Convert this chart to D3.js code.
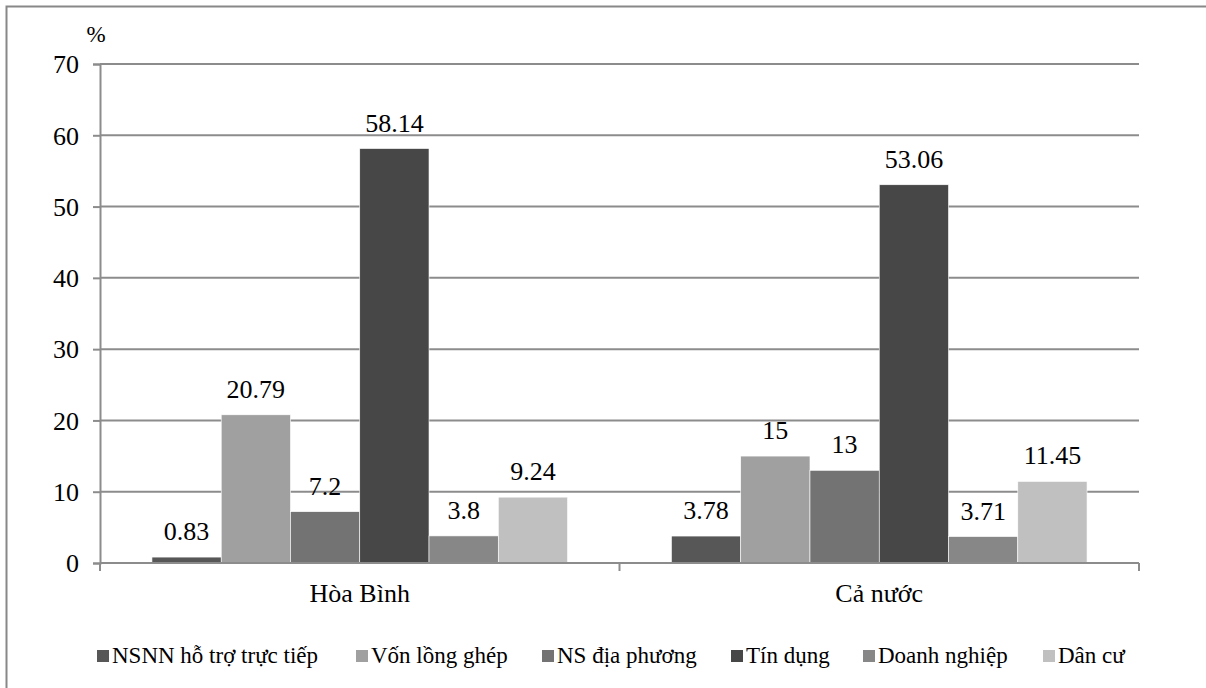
<!DOCTYPE html>
<html><head><meta charset="utf-8">
<script src="https://cdn.jsdelivr.net/npm/d3@7"></script>
<style>body{margin:0;background:#fff}svg{display:block}
svg text, #c text, text{font-family:"Liberation Serif", Tinos, "Times New Roman", serif !important;}</style>
</head><body>
<svg id="c" width="1206" height="688"></svg>
<script>
const categories = ["Hòa Bình", "Cả nước"];
const seriesNames = ["NSNN hỗ trợ trực tiếp", "Vốn lồng ghép", "NS địa phương", "Tín dụng", "Doanh nghiệp", "Dân cư"];
const valuesHoaBinh = [0.83, 20.79, 7.2, 58.14, 3.8, 9.24];
const valuesCaNuoc = [3.78, 15, 13, 53.06, 3.71, 11.45];
const yTicks = [0, 10, 20, 30, 40, 50, 60, 70];
const colors = ["#575757", "#a0a0a0", "#737373", "#474747", "#878787", "#c0c0c0"];

const FONT = "'Liberation Serif', Tinos, 'Times New Roman', serif";
function serif(sel, size){ return sel.attr("font-family","Liberation Serif").style("font-family",FONT,"important").style("font-size",size+"px").style("fill","#000"); }

const allValues = [valuesHoaBinh, valuesCaNuoc];
const svg = d3.select("#c").attr("font-family","Liberation Serif");
svg.append("rect").attr("x",6.5).attr("y",6.5).attr("width",1400).attr("height",900)
  .attr("fill","none").attr("stroke","#888").attr("stroke-width",2);

const x0 = d3.scaleBand().domain(categories).range([100,1139]).paddingInner(0).paddingOuter(0);
const x1 = d3.scaleBand().domain(seriesNames).range([x0.bandwidth()*0.1, x0.bandwidth()*0.9]).padding(0);
const y = d3.scaleLinear().domain([0,70]).range([563,64]);

svg.append("g").selectAll("line").data(yTicks.filter(d=>d>0)).join("line")
  .attr("x1",100).attr("x2",1139).attr("y1",d=>y(d)).attr("y2",d=>y(d))
  .attr("stroke","#8c8c8c").attr("stroke-width",2);

const yAxis = svg.append("g").attr("transform","translate(100,0)")
  .call(d3.axisLeft(y).tickValues(yTicks).tickSize(7).tickPadding(14).tickFormat(d3.format("d")));
yAxis.attr("font-family","Liberation Serif");
yAxis.select(".domain").attr("stroke","#8c8c8c").attr("stroke-width",2);
yAxis.selectAll(".tick line").attr("stroke","#8c8c8c").attr("stroke-width",2);
serif(yAxis.selectAll(".tick text"), 26).attr("dy","0.34em");

serif(svg.append("text").attr("x",96).attr("y",42).attr("text-anchor","middle"), 23).text("%");

const groups = svg.append("g").selectAll("g").data(categories).join("g")
  .attr("transform",d=>`translate(${x0(d)},0)`);
groups.each(function(cat,ci){
  const g = d3.select(this);
  const data = seriesNames.map((s,i)=>({s,i,v:allValues[ci][i]}));
  g.selectAll("rect").data(data).join("rect")
    .attr("x",d=>x1(d.s)).attr("width",x1.bandwidth())
    .attr("y",d=>y(d.v)).attr("height",d=>y(0)-y(d.v))
    .attr("fill",d=>colors[d.i]).attr("stroke","#fff").attr("stroke-width",0.6);
  serif(g.selectAll("text").data(data).join("text")
    .attr("x",d=>x1(d.s)+x1.bandwidth()/2).attr("y",d=>y(d.v)-17)
    .attr("text-anchor","middle"), 26).text(d=>String(d.v));
});

const xAxisG = svg.append("g").attr("transform","translate(0,563)");
xAxisG.append("line").attr("x1",100).attr("x2",1139).attr("y1",0).attr("y2",0).attr("stroke","#8c8c8c").attr("stroke-width",2);
const bounds = [100, x0(categories[1]), 1139];
xAxisG.selectAll("line.t").data(bounds).join("line").attr("class","t")
  .attr("x1",d=>d).attr("x2",d=>d).attr("y1",0).attr("y2",8).attr("stroke","#8c8c8c").attr("stroke-width",2);
serif(xAxisG.selectAll("text").data(categories).join("text")
  .attr("x",d=>x0(d)+x0.bandwidth()/2).attr("y",39).attr("text-anchor","middle"), 26).text(d=>d);

const legend = svg.append("g");
const legendStarts = [97, 356, 542, 731, 863, 1043];
seriesNames.forEach((s,i)=>{
  const gx = legendStarts[i];
  legend.append("rect").attr("x",gx).attr("y",650).attr("width",12).attr("height",12).attr("fill",colors[i]);
  serif(legend.append("text").attr("x",gx+15).attr("y",663), 23).text(s);
});
</script>
</body></html>
